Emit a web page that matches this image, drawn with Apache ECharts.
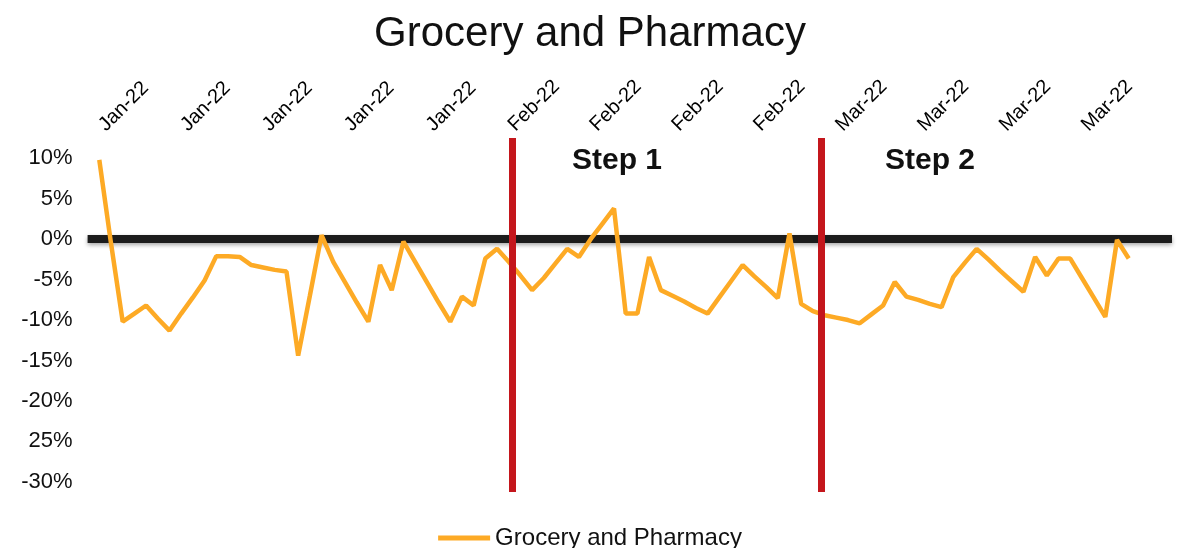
<!DOCTYPE html>
<html>
<head>
<meta charset="utf-8">
<script src="https://cdn.jsdelivr.net/npm/echarts@6/dist/echarts.min.js"></script>
<style>
  html, body { margin: 0; padding: 0; background: #fff; }
  #chart { width: 1180px; height: 548px; }
</style>
</head>
<body>
<div id="chart"></div>
<script>
// one value per day, Jan 1 .. Mar 30 (index = day number)
const values = [
  9.8, -0.5, -10.2, -9.2, -8.2, -9.8, -11.3, -9.2, -7.2, -5.1,
  -2.1, -2.1, -2.2, -3.2, -3.5, -3.8, -4.0, -14.4, -7.0, 0.5,
  -2.8, -5.3, -7.8, -10.2, -3.2, -6.3, -0.3, -2.8, -5.3, -7.8,
  -10.2, -7.1, -8.2, -2.4, -1.2, -2.8, -4.5, -6.3, -4.8, -3.0,
  -1.2, -2.2, 0.0, 1.9, 3.8, -9.2, -9.2, -2.2, -6.3, -7.0,
  -7.7, -8.5, -9.2, -7.2, -5.2, -3.2, -4.6, -5.9, -7.3, 0.7,
  -8.0, -8.9, -9.4, -9.7, -10.0, -10.4, -9.3, -8.2, -5.3, -7.1,
  -7.5, -8.0, -8.4, -4.7, -2.9, -1.2, -2.5, -3.9, -5.2, -6.5,
  -2.2, -4.5, -2.4, -2.4, -4.8, -7.2, -9.6, -0.1, -2.4
];

const tickDays = [0, 7, 14, 21, 28, 35, 42, 49, 56, 63, 70, 77, 84];
const tickLabels = ['Jan-22', 'Jan-22', 'Jan-22', 'Jan-22', 'Jan-22',
  'Feb-22', 'Feb-22', 'Feb-22', 'Feb-22',
  'Mar-22', 'Mar-22', 'Mar-22', 'Mar-22'];

const yTicks = [-30, -25, -20, -15, -10, -5, 0, 5, 10];
const yTickLabels = ['-30%', '25%', '-20%', '-15%', '-10%', '-5%', '0%', '5%', '10%'];

// where the two red step lines sit (day index)
const stepDays = [35.27, 61.68];
const stepNames = ['Step 1', 'Step 2'];

const FONT = '"Liberation Sans", Arial, sans-serif';

const chart = echarts.init(document.getElementById('chart'));

chart.setOption({
  animation: false,
  title: {
    text: 'Grocery and Pharmacy',
    left: 'center',
    top: 8,
    textStyle: { fontFamily: FONT, fontSize: 42, fontWeight: 'normal', color: '#111' }
  },
  legend: {
    data: ['Grocery and Pharmacy'],
    left: 'center',
    top: 521,
    icon: 'rect',
    itemWidth: 52,
    itemHeight: 5,
    textStyle: { fontFamily: FONT, fontSize: 24, color: '#111' }
  },
  grid: { left: 87.6, right: 8, top: 138, bottom: 56, containLabel: false },
  xAxis: {
    type: 'value',
    position: 'top',
    min: -1,
    max: 91.7,
    axisLine: { show: false },
    axisTick: { show: false },
    splitLine: { show: false },
    axisLabel: {
      customValues: tickDays,
      rotate: 45,
      margin: 7,
      padding: [0, 0, 0, 4],
      fontFamily: FONT,
      fontSize: 20,
      color: '#000',
      formatter: (v) => tickLabels[tickDays.indexOf(v)]
    }
  },
  yAxis: {
    type: 'value',
    min: -31.25,
    max: 12.5,
    axisLine: { show: false },
    axisTick: { show: false },
    splitLine: { show: false },
    axisLabel: {
      customValues: yTicks,
      margin: 15,
      fontFamily: FONT,
      fontSize: 22,
      color: '#111',
      formatter: (v) => yTickLabels[yTicks.indexOf(v)]
    }
  },
  graphic: stepNames.map((name, i) => ({
    type: 'text',
    x: [617, 930][i],
    y: 161,
    style: {
      text: name,
      font: 'bold 30px ' + FONT,
      fill: '#111',
      textAlign: 'center',
      textVerticalAlign: 'middle'
    }
  })),
  series: [
    {
      name: 'Grocery and Pharmacy',
      type: 'line',
      z: 2,
      symbol: 'none',
      data: values.map((v, i) => [i, v]),
      lineStyle: { color: '#FDAA25', width: 4.5 },
      itemStyle: { color: '#FDAA25' },
      markLine: {
        silent: true,
        symbol: ['none', 'none'],
        label: { show: false },
        lineStyle: { color: '#C4161C', width: 7, type: 'solid' },
        data: stepDays.map((d) => ({ xAxis: d }))
      }
    },
    {
      name: 'zero',
      type: 'line',
      data: [],
      markLine: {
        z: 1,
        silent: true,
        symbol: ['none', 'none'],
        label: { show: false },
        lineStyle: {
          color: '#1c1c1c',
          width: 8,
          type: 'solid',
          shadowBlur: 4,
          shadowColor: 'rgba(0,0,0,0.35)',
          shadowOffsetY: 2
        },
        data: [{ yAxis: 0 }]
      }
    }
  ]
});
</script>
</body>
</html>
